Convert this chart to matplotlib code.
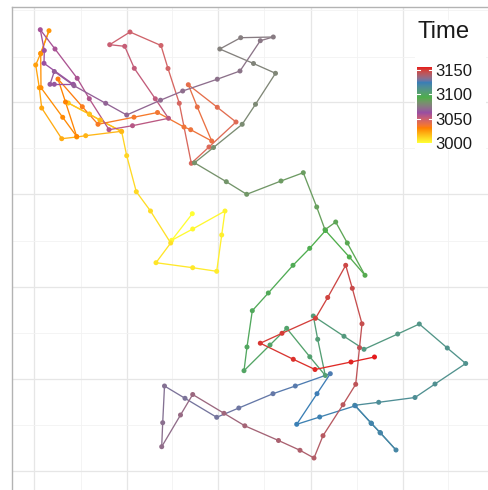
import numpy as np
import matplotlib
matplotlib.use("Agg")
import matplotlib.pyplot as plt
from matplotlib.collections import LineCollection
from matplotlib.colors import ListedColormap, Normalize
from matplotlib.patches import Rectangle

# ---- data: track positions and time stamps ----
x = [192.3, 171.7, 192.7, 225.0, 221.7, 216.7, 192.7, 156.0, 170.7, 150.5,
     136.3, 126.7, 121.7, 100.0, 89.3, 68.3, 89.5, 100.3, 121.5, 85.7,
     76.7, 61.7, 41.7, 39.3, 35.7, 40.7, 49.0, 40.7, 41.0, 62.7,
     76.7, 65.5, 58.0, 82.3, 98.0, 134.0, 157.5, 184.0, 190.7, 211.7,
     197.3, 188.3, 217.3, 236.0, 209.0, 191.3, 179.3, 168.0, 161.0, 130.0,
     109.7, 124.7, 134.3, 155.3, 168.5, 132.5, 109.0, 89.3, 77.2, 55.0,
     40.3, 44.3, 44.0, 73.3, 54.3, 50.0, 54.3, 74.0, 105.7, 126.7,
     160.5, 182.7, 217.3, 240.0, 260.3, 273.3, 240.7, 219.8, 253.5, 275.5,
     255.5, 242.2, 213.5, 194.5, 226.3, 246.7, 281.0, 303.3, 316.7, 325.0,
     335.7, 347.3, 365.0, 349.3, 325.5, 309.7, 293.0, 268.3, 252.3, 247.0,
     244.0, 270.0, 286.7, 309.8, 325.3, 317.7, 313.3, 344.0, 364.0, 397.7,
     419.3, 447.3, 465.7, 435.0, 415.0, 378.7, 354.7, 371.0, 380.0, 396.0,
     380.5, 371.5, 355.3, 319.7, 296.7, 317.0, 330.3, 295.3, 273.0, 238.8,
     216.7, 185.0, 164.5, 162.7, 161.7, 180.5, 192.7, 224.0, 244.8, 278.5,
     300.0, 314.0, 323.0, 343.0, 355.7, 359.5, 362.0, 352.3, 345.7, 327.7,
     315.5, 282.0, 260.3, 293.3, 315.0, 351.0, 374.5]
y = [213.7, 240.3, 229.0, 211.0, 235.0, 271.3, 267.7, 262.7, 243.0, 211.0,
     191.7, 155.7, 131.7, 120.0, 114.0, 103.0, 114.3, 120.3, 131.3, 135.7,
     137.0, 138.7, 108.0, 87.7, 65.0, 53.3, 30.7, 53.8, 87.7, 117.3,
     136.5, 102.0, 79.0, 106.7, 124.3, 117.2, 112.5, 127.0, 129.7, 141.0,
     107.0, 84.7, 107.3, 122.0, 147.0, 163.3, 103.3, 68.5, 45.5, 32.0,
     44.7, 46.3, 68.3, 98.8, 118.3, 125.7, 129.7, 98.7, 78.3, 49.0,
     29.7, 50.5, 63.3, 84.3, 84.3, 84.3, 71.5, 85.7, 103.3, 115.0,
     100.2, 91.0, 79.2, 71.0, 40.7, 37.0, 37.7, 49.0, 63.5, 73.3,
     104.3, 124.3, 147.5, 162.8, 181.7, 194.3, 181.0, 172.7, 207.0, 229.7,
     222.0, 243.0, 275.3, 257.0, 230.5, 248.3, 265.3, 293.0, 310.7, 347.0,
     370.7, 345.0, 328.3, 356.8, 375.5, 339.3, 316.0, 336.3, 349.3, 334.0,
     324.0, 348.0, 363.5, 384.0, 397.5, 402.3, 405.3, 423.0, 432.5, 450.0,
     433.0, 423.5, 405.8, 417.0, 424.3, 393.7, 373.7, 386.0, 393.7, 408.0,
     417.3, 398.3, 386.0, 422.7, 446.7, 415.0, 394.5, 413.3, 425.8, 440.5,
     450.3, 458.0, 435.7, 404.7, 384.3, 347.7, 323.8, 288.3, 265.3, 297.5,
     318.3, 333.3, 343.2, 359.3, 369.5, 362.0, 357.0]
time = [3000, 3001, 3002, 3003, 3004, 3005, 3006, 3007, 3008, 3009,
        3010, 3011, 3012, 3013, 3014, 3015, 3016, 3017, 3018, 3019,
        3020, 3021, 3022, 3023, 3024, 3025, 3026, 3027, 3028, 3029,
        3030, 3031, 3032, 3033, 3034, 3035, 3036, 3037, 3038, 3039,
        3040, 3041, 3042, 3043, 3044, 3045, 3046, 3047, 3048, 3049,
        3050, 3051, 3052, 3053, 3054, 3055, 3056, 3057, 3058, 3059,
        3060, 3061, 3062, 3063, 3064, 3065, 3066, 3067, 3068, 3069,
        3070, 3071, 3072, 3073, 3074, 3075, 3076, 3077, 3078, 3079,
        3080, 3081, 3082, 3083, 3084, 3085, 3086, 3087, 3088, 3089,
        3090, 3091, 3092, 3093, 3094, 3095, 3096, 3097, 3098, 3099,
        3100, 3101, 3102, 3103, 3104, 3105, 3106, 3107, 3108, 3109,
        3110, 3111, 3112, 3113, 3114, 3115, 3116, 3117, 3118, 3119,
        3120, 3121, 3122, 3123, 3124, 3125, 3126, 3127, 3128, 3129,
        3130, 3131, 3132, 3133, 3134, 3135, 3136, 3137, 3138, 3139,
        3140, 3141, 3142, 3143, 3144, 3145, 3146, 3147, 3148, 3149,
        3150, 3151, 3152, 3153, 3154, 3155, 3156]
legend_breaks = [3000, 3050, 3100, 3150]
palette = ["#FFFF33", "#FF7F00", "#984EA3", "#4DAF4A", "#377EB8", "#E41A1C"]

# ---- colour ramp interpolated in CIELAB (like ggplot's gradientn) ----
def _srgb_to_lab(rgb):
    rgb = np.asarray(rgb, float)
    lin = np.where(rgb <= 0.04045, rgb / 12.92, ((rgb + 0.055) / 1.055) ** 2.4)
    M = np.array([[0.4124564, 0.3575761, 0.1804375],
                  [0.2126729, 0.7151522, 0.0721750],
                  [0.0193339, 0.1191920, 0.9503041]])
    xyz = lin @ M.T / np.array([0.95047, 1.0, 1.08883])
    f = np.where(xyz > 0.008856, np.cbrt(xyz), 7.787 * xyz + 16 / 116)
    L = 116 * f[..., 1] - 16
    a = 500 * (f[..., 0] - f[..., 1])
    b = 200 * (f[..., 1] - f[..., 2])
    return np.stack([L, a, b], -1)

def _lab_to_srgb(lab):
    L, a, b = lab[..., 0], lab[..., 1], lab[..., 2]
    fy = (L + 16) / 116
    fx = fy + a / 500
    fz = fy - b / 200
    f = np.stack([fx, fy, fz], -1)
    xyz = np.where(f ** 3 > 0.008856, f ** 3, (f - 16 / 116) / 7.787)
    xyz = xyz * np.array([0.95047, 1.0, 1.08883])
    Minv = np.array([[3.2404542, -1.5371385, -0.4985314],
                     [-0.9692660, 1.8760108, 0.0415560],
                     [0.0556434, -0.2040259, 1.0572252]])
    lin = xyz @ Minv.T
    lin = np.clip(lin, 0, 1)
    rgb = np.where(lin <= 0.0031308, 12.92 * lin, 1.055 * lin ** (1 / 2.4) - 0.055)
    return np.clip(rgb, 0, 1)

stops = np.array([matplotlib.colors.to_rgb(c) for c in palette])
labs = _srgb_to_lab(stops)
pos = np.linspace(0, 1, len(palette))
grid = np.linspace(0, 1, 512)
lab_grid = np.stack([np.interp(grid, pos, labs[:, k]) for k in range(3)], -1)
cmap = ListedColormap(_lab_to_srgb(lab_grid))

x = np.asarray(x); y = np.asarray(y); t = np.asarray(time, float)
norm = Normalize(t.min(), t.max())

W, H = 488, 490
fig = plt.figure(figsize=(W / 100, H / 100), dpi=100)
fig.patch.set_facecolor("white")

left_px, top_px, right_px, bottom_px = 12.3, 6.7, 510, 510
ax = fig.add_axes([left_px / W, 1 - bottom_px / H,
                   (right_px - left_px) / W, (bottom_px - top_px) / H])
ax.set_xlim(left_px, right_px)
ax.set_ylim(bottom_px, top_px)

major_x = [34.3, 126.7, 218.3, 310.7, 402.7, 494.8]
minor_x = [80.7, 172.3, 264.3, 356.7, 448.3]
major_y = [102.3, 194.3, 286.7, 379.0, 471.0]
minor_y = [10.0, 56.7, 148.3, 240.7, 332.7, 425.0]
for v in major_x:
    ax.axvline(v, color="#E6E6E6", lw=0.9, zorder=0)
for v in minor_x:
    ax.axvline(v, color="#F2F2F2", lw=0.6, zorder=0)
for v in major_y:
    ax.axhline(v, color="#E6E6E6", lw=0.9, zorder=0)
for v in minor_y:
    ax.axhline(v, color="#F2F2F2", lw=0.6, zorder=0)
ax.set_xticks([]); ax.set_yticks([])
for side in ["left", "top"]:
    ax.spines[side].set_color("#B3B3B3")
    ax.spines[side].set_linewidth(1.0)
for side in ["right", "bottom"]:
    ax.spines[side].set_visible(False)

pts = np.column_stack([x, y])
segs = np.stack([pts[:-1], pts[1:]], axis=1)
lc = LineCollection(segs, colors=cmap(norm(t[:-1])), linewidths=0.95,
                    capstyle="round", zorder=2)
ax.add_collection(lc)
ax.scatter(x, y, c=t, cmap=cmap, norm=norm, s=13, linewidths=0, zorder=3)

# ---- legend ----
fig.patches.append(Rectangle((415 / W, 1 - 150 / H), 71 / W, 130 / H,
                             transform=fig.transFigure, facecolor="white",
                             edgecolor="none", zorder=5))
fig.text(418 / W, 1 - 37.5 / H, "Time", fontsize=17.2, color="#1A1A1A",
         family="Liberation Sans", va="baseline", ha="left", zorder=6)

cb_top, cb_bot = 67.3, 142.7
cax = fig.add_axes([417.3 / W, 1 - cb_bot / H, 15 / W, (cb_bot - cb_top) / H], zorder=7)
grad = np.linspace(t.min(), t.max(), 300).reshape(-1, 1)
cax.imshow(grad, aspect="auto", origin="lower", cmap=cmap, norm=norm,
           extent=[0, 1, t.min(), t.max()])
cax.set_xlim(0, 1); cax.set_ylim(t.min(), t.max())
cax.set_xticks([])
for s in cax.spines.values():
    s.set_visible(False)
for b in legend_breaks:
    cax.plot([0, 0.2], [b, b], color="white", lw=0.8)
    cax.plot([0.8, 1], [b, b], color="white", lw=0.8)
cax.yaxis.tick_right()
cax.set_yticks(legend_breaks)
cax.set_yticklabels([str(b) for b in legend_breaks])
cax.tick_params(axis="y", length=0, pad=2.5, labelsize=12, labelcolor="#1A1A1A")
for lab in cax.get_yticklabels():
    lab.set_family("Liberation Sans")

fig.savefig("out.png", dpi=100, facecolor="white")
